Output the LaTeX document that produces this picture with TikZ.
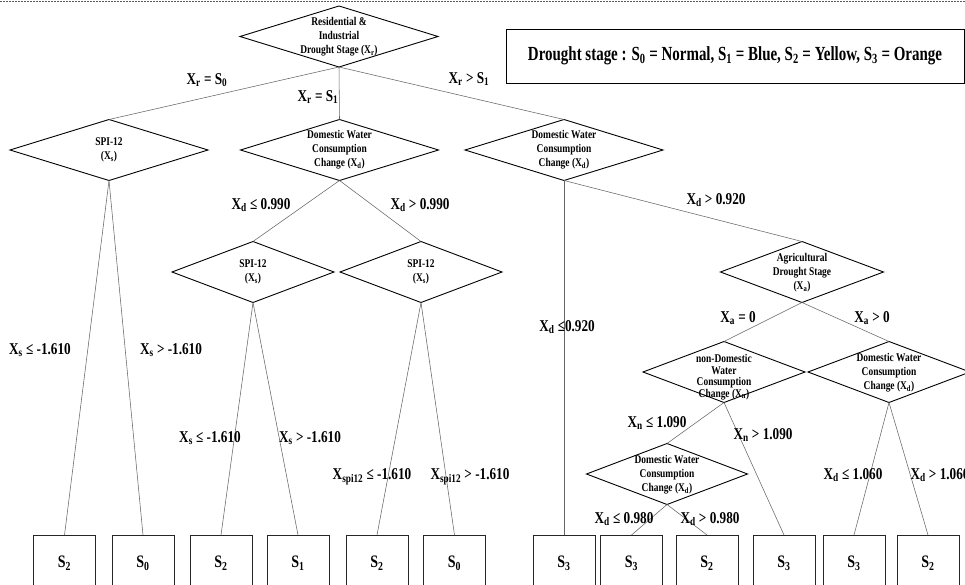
\documentclass[tikz,border=0pt]{standalone}
\usepackage{fontspec}
\usepackage{graphicx}
\setmainfont{Liberation Serif}[FakeStretch=0.8]
\usetikzlibrary{shapes.geometric}
\newcommand{\sbs}[1]{\textsubscript{#1}}
\newcommand{\narrowtext}[1]{\scalebox{0.935}[1]{#1}}
\begin{document}
\begin{tikzpicture}[x=1pt,y=-1pt,
  dia/.style={diamond, draw=black, line width=0.9pt, inner sep=0pt, outer sep=0pt, minimum width=#1, minimum height=61pt},
  dia/.default=198pt,
  dtxt/.style={font=\bfseries\fontsize{11.8}{14}\selectfont, align=center, inner sep=0pt},
  dtxtb/.style={font=\bfseries\fontsize{11.8}{11.5}\selectfont, align=center, inner sep=0pt},
  cond/.style={font=\bfseries\fontsize{16.5}{18}\selectfont, inner sep=0pt},
  leaf/.style={draw=black!85, line width=0.9pt, minimum width=62pt, minimum height=56pt, inner sep=0pt, outer sep=0pt, font=\bfseries\fontsize{17.5}{19}\selectfont},
  edge/.style={draw=black!60, line width=0.55pt},
  legendbox/.style={draw=black, line width=0.9pt, minimum width=458pt, minimum height=54pt, inner sep=0pt, font=\bfseries\fontsize{20}{22}\selectfont},
  topdots/.style={draw=black!65, line width=1.6pt, dash pattern=on 1.5pt off 1.5pt}
]
\useasboundingbox (0,0) rectangle (965,585);
% top dotted rule
\coordinate (dl) at (0,1.6);
\coordinate (dr) at (965,1.6);
\draw[topdots] (dl) -- (dr);

% diamonds
\node[dia] (root) at (339,36.5) {};
\node[dtxt] (rootT) at (339,37) {Residential \&\\Industrial\\Drought Stage (X\sbs{r})};

\node[dia] (spiA) at (109,150) {};
\node[dtxt] (spiAT) at (109,150) {SPI-12\\(X\sbs{s})};

\node[dia] (dwcA) at (339.5,150) {};
\node[dtxt] (dwcAT) at (339.5,150) {Domestic Water\\Consumption\\Change (X\sbs{d})};

\node[dia] (dwcB) at (564,150) {};
\node[dtxt] (dwcBT) at (564,150) {Domestic Water\\Consumption\\Change (X\sbs{d})};

\node[dia=162pt] (spiB) at (253,272) {};
\node[dtxt] (spiBT) at (253,272) {SPI-12\\(X\sbs{s})};

\node[dia=162pt] (spiC) at (421,272) {};
\node[dtxt] (spiCT) at (421,272) {SPI-12\\(X\sbs{s})};

\node[dia=163pt] (agr) at (802,272) {};
\node[dtxt] (agrT) at (802,273) {Agricultural\\Drought Stage\\(X\sbs{a})};

\node[dia=162pt] (ndw) at (724,372) {};
\node[dtxtb] (ndwT) at (724,377) {non-Domestic\\Water\\Consumption\\Change (X\sbs{n})};

\node[dia=162pt] (dwcC) at (889,372) {};
\node[dtxt] (dwcCT) at (889,373) {Domestic Water\\Consumption\\Change (X\sbs{d})};

\node[dia=161pt] (dwcD) at (667,474) {};
\node[dtxt] (dwcDT) at (667,475) {Domestic Water\\Consumption\\Change (X\sbs{d})};

% leaves
\node[leaf] (l1) at (64.5,563) {S\sbs{2}};
\node[leaf] (l2) at (143,563) {S\sbs{0}};
\node[leaf] (l3) at (221,563) {S\sbs{2}};
\node[leaf] (l4) at (298,563) {S\sbs{1}};
\node[leaf] (l5) at (377,563) {S\sbs{2}};
\node[leaf] (l6) at (454.5,563) {S\sbs{0}};
\node[leaf] (l7) at (564,563) {S\sbs{3}};
\node[leaf] (l8) at (631.5,563) {S\sbs{3}};
\node[leaf] (l9) at (707,563) {S\sbs{2}};
\node[leaf] (l10) at (784,563) {S\sbs{3}};
\node[leaf] (l11) at (854,563) {S\sbs{3}};
\node[leaf] (l12) at (928,563) {S\sbs{2}};

% connectors
\draw[edge] (root.south) -- (spiA.north);
\draw[edge] (root.south) -- (dwcA.north);
\draw[edge] (root.south) -- (dwcB.north);
\draw[edge] (spiA.south) -- (l1.north);
\draw[edge] (spiA.south) -- (l2.north);
\draw[edge] (dwcA.south) -- (spiB.north);
\draw[edge] (dwcA.south) -- (spiC.north);
\draw[edge] (spiB.south) -- (l3.north);
\draw[edge] (spiB.south) -- (l4.north);
\draw[edge] (spiC.south) -- (l5.north);
\draw[edge] (spiC.south) -- (l6.north);
\draw[edge] (dwcB.south) -- (l7.north);
\draw[edge] (dwcB.south) -- (agr.north);
\draw[edge] (agr.south) -- (ndw.north);
\draw[edge] (agr.south) -- (dwcC.north);
\draw[edge] (ndw.south) -- (dwcD.north);
\draw[edge] (ndw.south) -- (l10.north);
\draw[edge] (dwcD.south) -- (l8.north);
\draw[edge] (dwcD.south) -- (l9.north);
\draw[edge] (dwcC.south) -- (l11.north);
\draw[edge] (dwcC.south) -- (l12.north);

% condition labels
\node[cond] (c1) at (207,80) {X\sbs{r} = S\sbs{0}};
\node[cond] (c2) at (318,97) {X\sbs{r} = S\sbs{1}};
\node[cond] (c3) at (469,79) {X\sbs{r} > S\sbs{1}};
\node[cond] (c4) at (261,205) {X\sbs{d} ≤ 0.990};
\node[cond] (c5) at (420,205) {X\sbs{d} > 0.990};
\node[cond] (c6) at (716,200) {X\sbs{d} > 0.920};
\node[cond] (c7) at (40,350) {X\sbs{s} ≤ -1.610};
\node[cond] (c8) at (171,350) {X\sbs{s} > -1.610};
\node[cond] (c9) at (567,327) {X\sbs{d} ≤0.920};
\node[cond] (c10) at (210,438) {X\sbs{s} ≤ -1.610};
\node[cond] (c11) at (310,438) {X\sbs{s} > -1.610};
\node[cond] (c12) at (372,477) {X\sbs{spi12} ≤ -1.610};
\node[cond] (c13) at (470,477) {X\sbs{spi12} > -1.610};
\node[cond] (c14) at (738,318) {X\sbs{a} = 0};
\node[cond] (c15) at (872,318) {X\sbs{a} > 0};
\node[cond] (c16) at (657,423) {X\sbs{n} ≤ 1.090};
\node[cond] (c17) at (763,435) {X\sbs{n} > 1.090};
\node[cond] (c18) at (853,475) {X\sbs{d} ≤ 1.060};
\node[cond] (c19) at (940,475) {X\sbs{d} > 1.060};
\node[cond] (c20) at (624,519) {X\sbs{d} ≤ 0.980};
\node[cond] (c21) at (710,519) {X\sbs{d} > 0.980};

% legend
\node[legendbox] (legend) at (735,56) {\narrowtext{Drought stage : S\sbs{0} = Normal, S\sbs{1} = Blue, S\sbs{2} = Yellow, S\sbs{3} = Orange}};
\end{tikzpicture}
\end{document}
